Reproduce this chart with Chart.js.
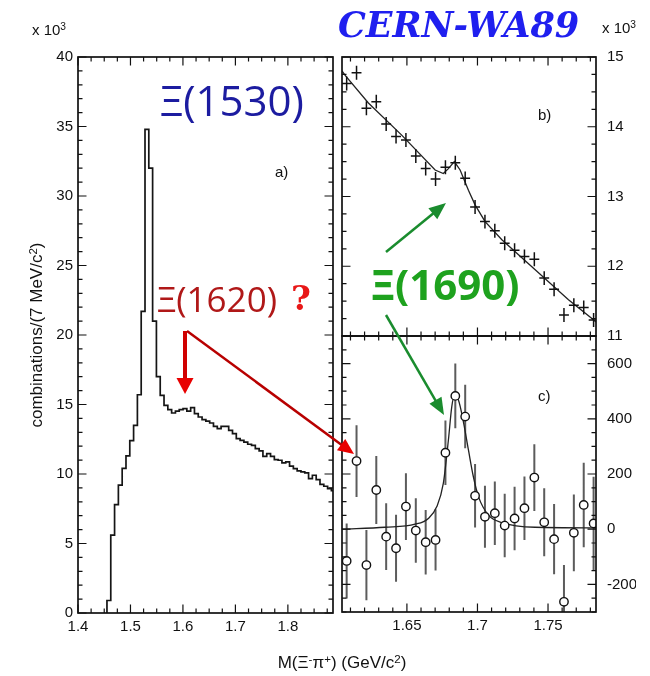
<!DOCTYPE html>
<html><head><meta charset="utf-8">
<script src="https://cdn.jsdelivr.net/npm/chart.js@4"></script>
<style>
html,body{margin:0;padding:0;background:#fff;}
#wrap{position:relative;width:650px;height:676px;overflow:hidden;background:#fff;}
canvas{position:absolute;left:0;top:0;}
.t{position:absolute;white-space:nowrap;line-height:1;font-family:"Liberation Sans",Arial,sans-serif;color:#111;}
.sup{position:relative;top:-0.45em;font-size:0.68em;}
svg{position:absolute;left:0;top:0;}
</style></head><body>
<div id="wrap">
<canvas id="ca" width="650" height="676"></canvas>
<canvas id="cb" width="650" height="676"></canvas>
<canvas id="cc" width="650" height="676"></canvas>
<svg id="arrows" width="650" height="676"></svg>

<div class="t" style="left:32px;top:22px;font-size:15px;">x 10<span class="sup">3</span></div>
<div class="t" style="left:602px;top:20px;font-size:15px;">x 10<span class="sup">3</span></div>
<div class="t" style="left:338px;top:7px;font-size:35px;font-family:'DejaVu Serif',serif;font-style:italic;font-weight:bold;color:#1f1fef;">CERN-WA89</div>
<div class="t" style="left:160px;top:79px;font-size:42px;font-family:'Open Sans',sans-serif;color:#1c1ca0;">Ξ(1530)</div>
<div class="t" style="left:275px;top:164px;font-size:15px;">a)</div>
<div class="t" style="left:538px;top:107px;font-size:15px;">b)</div>
<div class="t" style="left:538px;top:388px;font-size:15px;">c)</div>
<div class="t" style="left:157px;top:281px;font-size:35px;font-family:'Open Sans',sans-serif;color:#b01818;">Ξ(1620)</div>
<div class="t" style="left:291px;top:281px;font-size:34px;font-family:'DejaVu Serif',serif;font-weight:bold;color:#e81818;">?</div>
<div class="t" style="left:371px;top:263px;font-size:42px;font-family:'Open Sans',sans-serif;font-weight:bold;color:#1ea21e;">Ξ(1690)</div>
<div class="t" style="left:36px;top:335px;font-size:17px;transform:translate(-50%,-50%) rotate(-90deg);">combinations/(7 MeV/c<span class="sup">2</span>)</div>
<div class="t" style="left:342px;top:662px;font-size:17px;transform:translate(-50%,-50%);">M(Ξ<span class="sup">-</span>π<span class="sup">+</span>) (GeV/c<span class="sup">2</span>)</div>
</div>
<script>
// ---------------- DATA ----------------
// Panel a: histogram of M(Xi- pi+), counts in units of 10^3
const histStart = 1.4552;   // lower edge of first filled bin (GeV/c^2)
const histWidth = 0.00725;  // bin width as drawn
const histCounts = [0.9, 5.6, 7.8, 9.2, 10.4, 11.3, 12.4, 13.5, 15.7, 21.7,
  34.8, 32.0, 21.0, 17.0, 15.66, 14.94, 14.63, 14.39, 14.53, 14.63,
  14.70, 14.53, 14.77, 14.34, 14.10, 13.91, 13.81, 13.67, 13.43, 13.26,
  13.43, 13.43, 13.14, 12.90, 12.54, 12.42, 12.30, 12.14, 12.06, 11.83,
  11.66, 11.27, 11.47, 11.27, 11.04, 10.99, 10.80, 10.87, 10.56, 10.39,
  10.22, 10.15, 10.08, 9.67, 9.91, 9.60, 9.26, 9.12, 8.95, 8.80];
const xaTicks = [1.4, 1.5, 1.6, 1.7, 1.8];
const yaTicks = [0, 5, 10, 15, 20, 25, 30, 35, 40];

// Panels b and c: bin centres (GeV/c^2)
const bcMass = [1.6073, 1.6143, 1.6213, 1.6283, 1.6353, 1.6423, 1.6493, 1.6563, 1.6633, 1.6703,
  1.6773, 1.6843, 1.6913, 1.6983, 1.7053, 1.7123, 1.7193, 1.7263, 1.7333, 1.7403,
  1.7473, 1.7543, 1.7613, 1.7683, 1.7753, 1.7823];
const bcHalfBin = 0.0035;
// Panel b: zoomed spectrum (x10^3) with errors
const bVal = [14.62, 14.775, 14.265, 14.36, 14.04, 13.86, 13.81, 13.58, 13.40, 13.25,
  13.42, 13.485, 13.26, 12.85, 12.64, 12.51, 12.33, 12.23, 12.14, 12.10,
  11.83, 11.67, 11.30, 11.44, 11.41, 11.23];
const bErr = [0.10, 0.10, 0.10, 0.10, 0.10, 0.10, 0.10, 0.10, 0.10, 0.10,
  0.10, 0.10, 0.10, 0.10, 0.10, 0.10, 0.10, 0.10, 0.10, 0.10,
  0.10, 0.10, 0.10, 0.10, 0.10, 0.10];
const bFitMass = [1.604, 1.6061, 1.6227, 1.6463, 1.6700, 1.6758, 1.6794, 1.6836, 1.6877, 1.6936,
  1.6983, 1.7054, 1.7173, 1.7409, 1.7645, 1.7811, 1.784];
const bFitVal = [14.80, 14.74, 14.34, 13.88, 13.38, 13.33, 13.40, 13.50, 13.38, 13.09,
  12.88, 12.64, 12.38, 11.95, 11.52, 11.25, 11.20];
const ybTicks = [11, 12, 13, 14, 15];

// Panel c: background-subtracted spectrum
const cVal = [-115, 247, -130, 142, -27, -69, 82, -5, -47, -39,
  277, 483, 408, 121, 45, 58, 13, 39, 76, 187,
  25, -36, -263, -13, 88, 21];
const cErr = [136, 130, 127, 123, 121, 121, 121, 117, 117, 111,
  117, 117, 115, 115, 112, 115, 115, 115, 115, 121,
  123, 127, 133, 139, 153, 169];
const cFitMass = [1.604, 1.6345, 1.6558, 1.6652, 1.6712, 1.6758, 1.6794, 1.6818, 1.6836, 1.6865,
  1.6900, 1.6936, 1.6971, 1.7007, 1.7078, 1.7173, 1.7409, 1.784];
const cFitVal = [0, 7, 18, 39, 82, 166, 323, 444, 483, 468,
  390, 287, 190, 118, 51, 24, 7, 5];
const xcTicks = [1.65, 1.7, 1.75];
const ycTicks = [-200, 0, 200, 400, 600];

// ---------------- HELPERS ----------------
const tickFont = {family: "'Liberation Sans', Arial, sans-serif", size: 15};

function frameTicks(cfg) {
  return {
    id: 'frameTicks',
    afterDraw(chart) {
      const {ctx, chartArea: a} = chart;
      const xs = chart.scales.x, ys = chart.scales.y;
      const steps = (min, max, st) => {
        const out = [];
        const i0 = Math.ceil(min / st - 1e-6), i1 = Math.floor(max / st + 1e-6);
        for (let i = i0; i <= i1; i++) out.push(i * st);
        return out;
      };
      ctx.save();
      ctx.strokeStyle = '#111';
      ctx.lineWidth = 1.2;
      ctx.beginPath();
      const seg = (x1, y1, x2, y2) => { ctx.moveTo(x1, y1); ctx.lineTo(x2, y2); };
      const xt = (vals, len) => vals.forEach(v => {
        const p = xs.getPixelForValue(v);
        if (p < a.left - 0.5 || p > a.right + 0.5) return;
        seg(p, a.bottom, p, a.bottom - len); seg(p, a.top, p, a.top + len);
      });
      const yt = (vals, len) => vals.forEach(v => {
        const p = ys.getPixelForValue(v);
        if (p < a.top - 0.5 || p > a.bottom + 0.5) return;
        seg(a.left, p, a.left + len, p); seg(a.right, p, a.right - len, p);
      });
      xt(steps(xs.min, xs.max, cfg.xMinor), 4.5);
      xt(cfg.xMajor, 8.5);
      yt(steps(ys.min, ys.max, cfg.yMinor), 4.5);
      yt(cfg.yMajor, 8.5);
      ctx.stroke();
      ctx.lineWidth = 1.7;
      ctx.strokeRect(a.left, a.top, a.right - a.left, a.bottom - a.top);
      ctx.restore();
    }
  };
}

function linScale(min, max, ticks, extra) {
  return Object.assign({
    type: 'linear', min: min, max: max,
    afterBuildTicks: s => { s.ticks = ticks.map(v => ({value: v})); },
    ticks: {font: tickFont, color: '#111', autoSkip: false, maxRotation: 0, padding: 5,
      callback: v => String(v)},
    grid: {display: false, drawTicks: false},
    border: {display: false}
  }, extra || {});
}

const baseOpts = {responsive: false, animation: false, events: [], devicePixelRatio: 1};
const noPlug = {legend: {display: false}, tooltip: {enabled: false}};

// ---------------- PANEL A ----------------
const histPts = [{x: histStart, y: 0}];
histCounts.forEach((c, k) => {
  const lo = histStart + k * histWidth;
  histPts.push({x: lo, y: c}, {x: lo + histWidth, y: c});
});

new Chart(document.getElementById('ca'), {
  type: 'scatter',
  data: {datasets: [{data: histPts, showLine: true, borderColor: '#151515', borderWidth: 1.7,
    pointRadius: 0, tension: 0, clip: 0}]},
  options: Object.assign({}, baseOpts, {
    layout: {padding: {left: 38, right: 317, top: 57, bottom: 33}},
    scales: {
      x: linScale(1.4, 1.886, xaTicks, {position: 'bottom', afterFit: s => { s.height = 30; }}),
      y: linScale(0, 40, yaTicks, {position: 'left', afterFit: s => { s.width = 40; }})
    },
    plugins: noPlug
  }),
  plugins: [frameTicks({xMajor: xaTicks, xMinor: 0.025, yMajor: yaTicks, yMinor: 1})]
});

// ---------------- PANEL B ----------------
const crossPlugin = {
  id: 'crosses',
  afterDatasetsDraw(chart) {
    const {ctx, chartArea: a} = chart;
    const xs = chart.scales.x, ys = chart.scales.y;
    ctx.save();
    ctx.beginPath(); ctx.rect(a.left, a.top, a.right - a.left, a.bottom - a.top); ctx.clip();
    ctx.strokeStyle = '#111'; ctx.lineWidth = 1.5;
    ctx.beginPath();
    bcMass.forEach((m, i) => {
      const px = xs.getPixelForValue(m), py = ys.getPixelForValue(bVal[i]);
      ctx.moveTo(xs.getPixelForValue(m - bcHalfBin), py);
      ctx.lineTo(xs.getPixelForValue(m + bcHalfBin), py);
      ctx.moveTo(px, ys.getPixelForValue(bVal[i] - bErr[i]));
      ctx.lineTo(px, ys.getPixelForValue(bVal[i] + bErr[i]));
    });
    ctx.stroke();
    ctx.restore();
  }
};

new Chart(document.getElementById('cb'), {
  type: 'scatter',
  data: {datasets: [
    {data: bFitMass.map((m, i) => ({x: m, y: bFitVal[i]})), showLine: true, borderColor: '#222',
      borderWidth: 1.3, pointRadius: 0, tension: 0}
  ]},
  options: Object.assign({}, baseOpts, {
    layout: {padding: {left: 342, right: 14, top: 57, bottom: 340}},
    scales: {
      x: {type: 'linear', min: 1.604, max: 1.784, display: false},
      y: linScale(11, 15, ybTicks, {position: 'right', afterFit: s => { s.width = 40; },
        ticks: {font: tickFont, color: '#111', autoSkip: false, padding: 11, callback: v => String(v)}})
    },
    plugins: noPlug
  }),
  plugins: [crossPlugin, frameTicks({xMajor: xcTicks, xMinor: 0.01, yMajor: ybTicks, yMinor: 0.25})]
});

// ---------------- PANEL C ----------------
const errPlugin = {
  id: 'errbars',
  beforeDatasetsDraw(chart) {
    const {ctx, chartArea: a} = chart;
    const xs = chart.scales.x, ys = chart.scales.y;
    ctx.save();
    ctx.beginPath(); ctx.rect(a.left, a.top, a.right - a.left, a.bottom - a.top); ctx.clip();
    ctx.strokeStyle = '#5c5c5c'; ctx.lineWidth = 2;
    ctx.beginPath();
    bcMass.forEach((m, i) => {
      const px = xs.getPixelForValue(m);
      ctx.moveTo(px, ys.getPixelForValue(cVal[i] - cErr[i]));
      ctx.lineTo(px, ys.getPixelForValue(cVal[i] + cErr[i]));
    });
    ctx.stroke();
    ctx.restore();
  }
};

new Chart(document.getElementById('cc'), {
  type: 'scatter',
  data: {datasets: [
    {data: bcMass.map((m, i) => ({x: m, y: cVal[i]})), pointRadius: 4.2, pointBackgroundColor: '#fff',
      pointBorderColor: '#111', pointBorderWidth: 1.4, showLine: false},
    {data: cFitMass.map((m, i) => ({x: m, y: cFitVal[i]})), showLine: true, borderColor: '#222',
      borderWidth: 1.3, pointRadius: 0, cubicInterpolationMode: 'monotone'}
  ]},
  options: Object.assign({}, baseOpts, {
    layout: {padding: {left: 342, right: 14, top: 336, bottom: 34}},
    scales: {
      x: linScale(1.604, 1.784, xcTicks, {position: 'bottom', afterFit: s => { s.height = 30; }}),
      y: linScale(-300, 700, ycTicks, {position: 'right', afterFit: s => { s.width = 40; },
        ticks: {font: tickFont, color: '#111', autoSkip: false, padding: 11, callback: v => String(v)}})
    },
    plugins: noPlug
  }),
  plugins: [errPlugin, frameTicks({xMajor: xcTicks, xMinor: 0.01, yMajor: ycTicks, yMinor: 50})]
});

// ---------------- ANNOTATION ARROWS ----------------
const svg = document.getElementById('arrows');
const NS = 'http://www.w3.org/2000/svg';
function arrow(x1, y1, x2, y2, color, headColor, w, hl, hw) {
  const dx = x2 - x1, dy = y2 - y1, L = Math.hypot(dx, dy), ux = dx / L, uy = dy / L;
  const bx = x2 - ux * hl, by = y2 - uy * hl;
  const ln = document.createElementNS(NS, 'line');
  ln.setAttribute('x1', x1); ln.setAttribute('y1', y1);
  ln.setAttribute('x2', bx + ux * 2); ln.setAttribute('y2', by + uy * 2);
  ln.setAttribute('stroke', color); ln.setAttribute('stroke-width', w);
  svg.appendChild(ln);
  const pg = document.createElementNS(NS, 'polygon');
  pg.setAttribute('points', [x2, y2, bx - uy * hw, by + ux * hw, bx + uy * hw, by - ux * hw].join(' '));
  pg.setAttribute('fill', headColor);
  svg.appendChild(pg);
}
arrow(185, 331, 185, 394, '#d00000', '#e80000', 4, 16, 8.5);
arrow(187, 331, 354, 454, '#b80000', '#e80000', 2.5, 16, 7);
arrow(386, 252, 446, 203, '#1a8c2e', '#1a8c2e', 2.5, 17, 7);
arrow(386, 315, 444, 415, '#1a8c2e', '#1a8c2e', 2.5, 17, 7);
</script>
</body></html>
